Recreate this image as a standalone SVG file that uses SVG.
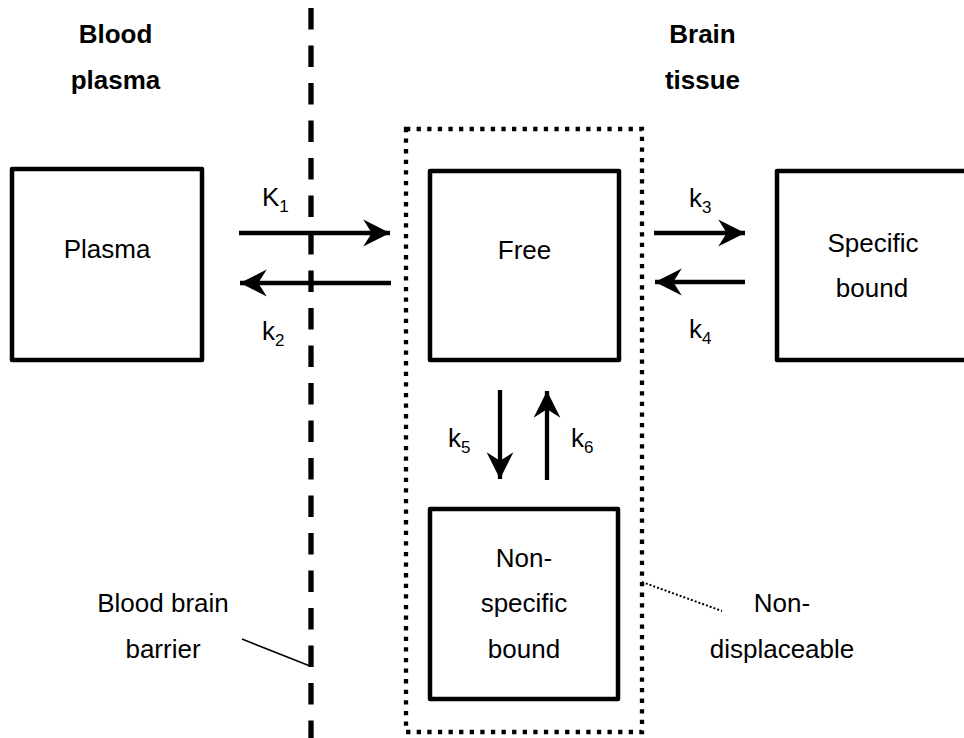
<svg xmlns="http://www.w3.org/2000/svg" width="964" height="738" viewBox="0 0 964 738">
  <defs>
    <marker id="ah" markerUnits="userSpaceOnUse" markerWidth="30" markerHeight="30" viewBox="-26 -14 28 28" refX="0" refY="0" orient="auto">
      <path d="M0,0 L-25,-12.5 L-17,0 L-25,12.5 Z" fill="#000"/>
    </marker>
  </defs>
  <style>
    text { font-family: "Liberation Sans", Arial, sans-serif; font-size: 26px; fill: #000; text-anchor: middle; }
    .b { font-weight: bold; }
    .k { text-anchor: start; }
    .sub { font-size: 17px; }
    .box { fill: #fff; stroke: #000; stroke-width: 4.5; stroke-linejoin: round; }
    .arr { stroke: #000; stroke-width: 4.3; fill: none; marker-end: url(#ah); }
    .bbb { stroke: #000; stroke-width: 5.3; stroke-dasharray: 21.5 16; fill: none; }
    .dot { stroke: #000; stroke-width: 4.3; stroke-dasharray: 4.3 6.3; fill: none; }
  </style>
  <rect width="964" height="738" fill="#fff"/>

  <g id="headers">
    <text class="b" x="115.5" y="43">Blood</text>
    <text class="b" x="115.5" y="89">plasma</text>
    <text class="b" x="702.5" y="43">Brain</text>
    <text class="b" x="702.5" y="89">tissue</text>
  </g>

  <g id="barrier">
    <line class="bbb" x1="311" y1="8" x2="311" y2="738"/>
  </g>

  <g id="nondisplaceable">
    <rect class="dot" x="406" y="129" width="236" height="603"/>
  </g>

  <g id="plasma">
    <rect class="box" x="12" y="169" width="190" height="191"/>
    <text x="107" y="258">Plasma</text>
  </g>

  <g id="free">
    <rect class="box" x="430" y="171" width="189" height="189"/>
    <text x="524.5" y="259">Free</text>
  </g>

  <g id="specific">
    <rect class="box" x="777" y="171" width="200" height="189"/>
    <text x="873" y="252">Specific</text>
    <text x="872" y="297">bound</text>
  </g>

  <g id="nonspecific">
    <rect class="box" x="430" y="509" width="188" height="190"/>
    <text x="524" y="567">Non-</text>
    <text x="524" y="612">specific</text>
    <text x="524" y="658">bound</text>
  </g>

  <g id="connectors">
    <line class="arr" x1="239" y1="233" x2="390" y2="233"/>
    <line class="arr" x1="391" y1="283" x2="240" y2="283"/>
    <line class="arr" x1="654" y1="233" x2="745" y2="233"/>
    <line class="arr" x1="745" y1="282" x2="655" y2="282"/>
    <line class="arr" x1="500" y1="390" x2="500" y2="479"/>
    <line class="arr" x1="547" y1="480" x2="547" y2="391"/>
    <line x1="242" y1="639" x2="310" y2="666" stroke="#000" stroke-width="1.6"/>
    <line x1="642" y1="582" x2="722" y2="611" stroke="#000" stroke-width="2" stroke-dasharray="2 2"/>
  </g>

  <g id="rate-labels">
    <text class="k" x="262" y="206">K<tspan class="sub" dy="6">1</tspan></text>
    <text class="k" x="262" y="340">k<tspan class="sub" dy="6">2</tspan></text>
    <text class="k" x="689" y="207">k<tspan class="sub" dy="6">3</tspan></text>
    <text class="k" x="689" y="338">k<tspan class="sub" dy="6">4</tspan></text>
    <text class="k" x="448" y="447">k<tspan class="sub" dy="6">5</tspan></text>
    <text class="k" x="571" y="447">k<tspan class="sub" dy="6">6</tspan></text>
  </g>

  <g id="annotations">
    <text x="163" y="612">Blood brain</text>
    <text x="163" y="658">barrier</text>
    <text x="782" y="612">Non-</text>
    <text x="782" y="658">displaceable</text>
  </g>
</svg>
